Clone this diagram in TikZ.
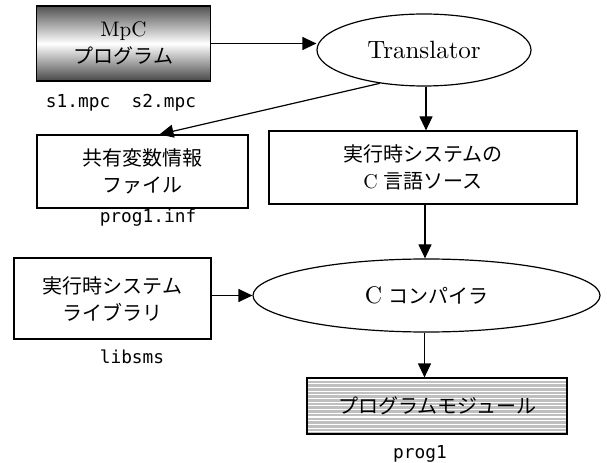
\documentclass[tikz,border=0pt]{standalone}
\usepackage{fontspec}
\newfontfamily\jp{Noto Sans CJK JP}
\newfontfamily\mono{DejaVu Sans Mono}
\newfontfamily\lmten{lmroman10-regular.otf}
\usetikzlibrary{arrows.meta,shapes.geometric}
\begin{document}
\begin{tikzpicture}[x=1bp,y=-1bp,
  box/.style={draw, line width=1.2bp, inner sep=0, align=center,
    font=\fontsize{20bp}{27bp}\selectfont},
  oval/.style={ellipse, draw, line width=1.2bp, inner sep=0,
    font=\fontsize{20bp}{27bp}\selectfont},
  arr/.style={line width=1.2bp, -{Triangle[length=14bp,width=13bp]}},
  lbl/.style={font=\mono\fontsize{17.8bp}{20bp}\selectfont, inner sep=0, anchor=base}
]
\useasboundingbox (0,0) rectangle (607,463);

\node[box, minimum width=174bp, minimum height=75bp,
  top color=black!68, bottom color=black!72, middle color=white]
  (mpc) at (123.5,43.5) {{\lmten\fontsize{21bp}{27bp}\selectfont MpC}\\{\jp プログラム}};
\node[oval, minimum width=214bp, minimum height=72bp] (trans) at (424,50)
  {\lmten\fontsize{25bp}{27bp}\selectfont Translator};
\node[box, minimum width=211bp, minimum height=73bp] (shared) at (142.5,171.5)
  {\jp 共有変数情報\\\jp ファイル};
\node[box, minimum width=308bp, minimum height=73bp] (csrc) at (423,167.5)
  {\jp 実行時システムの\\{\lmten\fontsize{20bp}{27bp}\selectfont C} \jp 言語ソース};
\node[box, minimum width=197bp, minimum height=81bp] (lib) at (112.5,298.5)
  {\jp 実行時システム\\\jp ライブラリ};
\node[oval, minimum width=347bp, minimum height=73bp] (cc) at (426.5,295.5)
  {{\lmten\fontsize{24bp}{27bp}\selectfont C} \jp コンパイラ};
\node[box, minimum width=260bp, minimum height=56bp, fill=gray!50,
  path picture={
    \foreach \k in {0,...,15}{
      \draw[white, line width=1.1bp]
        ([yshift=-2bp-\k*3.7bp]path picture bounding box.north west) --
        ([yshift=-2bp-\k*3.7bp]path picture bounding box.north east);
    }
  }] (mod) at (437,406) {};
\node[font=\jp\fontsize{20bp}{27bp}\selectfont, inner sep=0] (modtext) at (mod.center) {プログラムモジュール};

\node[lbl] (l1) at (121,108) {s1.mpc\ \ s2.mpc};
\node[lbl] (l2) at (148,223) {prog1.inf};
\node[lbl] (l3) at (132,363) {libsms};
\node[lbl] (l4) at (420,458) {prog1};

\draw[arr] (mpc.east) -- (mpc.east -| trans.west);
\draw[arr] (trans.217) -- ([xshift=17bp]shared.north);
\draw[arr] ([xshift=2bp]trans.south) -- ([xshift=2bp]trans.south |- csrc.north);
\draw[arr] ([xshift=2bp]csrc.south) -- ([xshift=2bp]csrc.south |- cc.north);
\draw[arr] (lib.east |- cc.west) -- (cc.west);
\draw[arr] ([xshift=-2bp]cc.south) -- ([xshift=-2bp]cc.south |- mod.north);
\end{tikzpicture}
\end{document}
